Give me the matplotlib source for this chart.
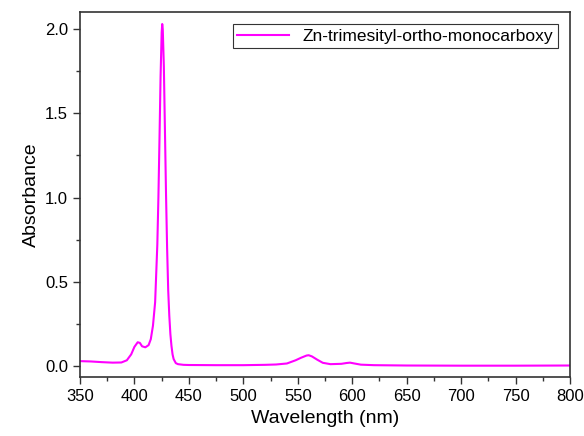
import matplotlib
matplotlib.use('Agg')
import matplotlib.pyplot as plt
from matplotlib.ticker import MultipleLocator

# UV-vis spectrum, values
wavelength = [350, 360, 370, 380, 388, 393, 397, 400, 403, 405, 407, 410, 413,
              415, 417, 419, 421, 422, 423, 424, 425, 425.5, 426, 427, 428,
              429, 430, 431, 432, 433, 434, 435, 436, 438, 440, 445, 450,
              475, 500, 520, 530, 540, 548, 553, 558, 560, 563, 568, 573,
              580, 590, 595, 598, 602, 608, 620, 650, 700, 750, 800]
absorbance = [0.030, 0.028, 0.024, 0.021, 0.022, 0.035, 0.070, 0.115, 0.142,
              0.138, 0.118, 0.112, 0.125, 0.160, 0.240, 0.380, 0.720, 1.000,
              1.350, 1.720, 1.980, 2.030, 2.000, 1.780, 1.400, 1.020, 0.700,
              0.450, 0.300, 0.190, 0.120, 0.070, 0.042, 0.018, 0.012, 0.008,
              0.007, 0.006, 0.006, 0.008, 0.010, 0.016, 0.035, 0.050, 0.063,
              0.065, 0.058, 0.038, 0.020, 0.012, 0.014, 0.019, 0.021, 0.016,
              0.009, 0.006, 0.004, 0.003, 0.003, 0.004]

label = 'Zn-trimesityl-ortho-monocarboxy'

plt.rcParams['font.family'] = ['Liberation Sans', 'DejaVu Sans']

fig = plt.figure(figsize=(5.84, 4.36), dpi=100)
ax = fig.add_axes([0.137, 0.135, 0.839, 0.837])

ax.plot(wavelength, absorbance, color='#FF00FF', linewidth=1.5, label=label)

ax.set_xlim(350, 800)
ax.set_ylim(-0.065, 2.10)
ax.xaxis.set_major_locator(MultipleLocator(50))
ax.xaxis.set_minor_locator(MultipleLocator(25))
ax.yaxis.set_major_locator(MultipleLocator(0.5))
ax.yaxis.set_minor_locator(MultipleLocator(0.25))
ax.tick_params(which='both', direction='out', colors='#333333', labelcolor='black',
               labelsize=12, top=False, right=False)
ax.tick_params(which='major', length=5, width=1)
ax.tick_params(which='minor', length=3, width=1)

for s in ax.spines.values():
    s.set_color('#333333')
    s.set_linewidth(1.2)

ax.set_xlabel('Wavelength (nm)', fontsize=14)
ax.set_ylabel('Absorbance', fontsize=14)

leg = ax.legend(loc='upper right', fontsize=12.5, frameon=True, fancybox=False,
                framealpha=1, edgecolor='#333333', handlelength=3.0,
                borderaxespad=0.7, borderpad=0.25)
leg.get_frame().set_linewidth(0.8)

fig.savefig('out.png', dpi=100)
